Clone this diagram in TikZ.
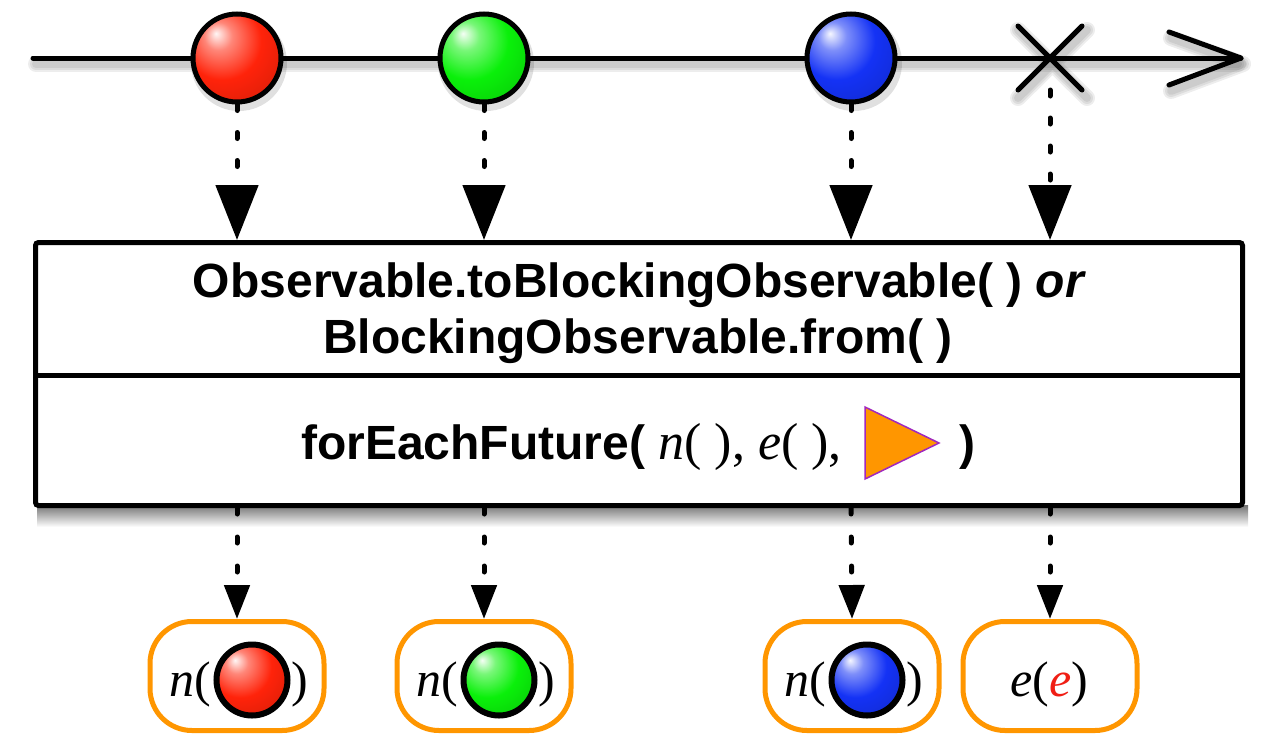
\documentclass[tikz,border=0pt]{standalone}
\usepackage{fontspec}
\setmainfont{Liberation Serif}
\setsansfont{Liberation Sans}
\usetikzlibrary{arrows.meta}
\definecolor{orng}{RGB}{255,150,0}
\definecolor{tripurple}{RGB}{160,40,190}
\definecolor{ered}{RGB}{240,30,20}
\definecolor{mred}{RGB}{255,35,10}
\definecolor{mgreen}{RGB}{10,240,10}
\definecolor{mblue}{RGB}{20,50,245}
\newcommand{\serup}[1]{{\rmfamily\mdseries\upshape\fontsize{52}{56}\selectfont #1}}
\newcommand{\serit}[1]{{\rmfamily\mdseries\itshape\fontsize{52}{56}\selectfont #1}}
\makeatletter
\pgfdeclareradialshading[tikz@ball]{marbleshade}{\pgfqpoint{-12bp}{14bp}}{%
  color(0bp)=(tikz@ball!4!white);
  color(8bp)=(tikz@ball!55!white);
  color(22bp)=(tikz@ball);
  color(36bp)=(tikz@ball!88!black);
  color(50bp)=(tikz@ball!60!black);
  color(70bp)=(tikz@ball!50!black)}
\makeatother
\begin{document}
\begin{tikzpicture}[x=1pt,y=-1pt,
  timeline/.style={line width=5pt, line cap=round, line join=round},
  tshadow/.style={line cap=round, line join=round, black, opacity=0.07},
  marble/.style={circle, draw=black, line width=5pt, minimum size=88pt, inner sep=0pt, shade, ball color=#1, shading=marbleshade},
  smallmarble/.style={circle, draw=black, line width=6pt, minimum size=71pt, inner sep=0pt, shade, ball color=#1, shading=marbleshade},
  opbox/.style={draw=black, line width=5pt, rounded corners=3pt, fill=white, minimum width=1207pt, minimum height=263pt, inner sep=0pt},
  resbox/.style={draw=orng, line width=5pt, rounded corners=42pt, fill=white, minimum width=174pt, minimum height=109pt, inner sep=0pt},
  dotarrow/.style={line width=5pt, line cap=round, dash pattern=on 6pt off 22pt, -{Triangle[length=55pt,width=42pt]}},
  smalldotarrow/.style={line width=5pt, line cap=round, dash pattern=on 6pt off 23pt, -{Triangle[length=34pt,width=25pt]}},
  boxtext/.style={font=\sffamily\bfseries\fontsize{48}{56}\selectfont, inner sep=0pt, anchor=base},
  restext/.style={font=\rmfamily\fontsize{50}{56}\selectfont, inner sep=0pt, anchor=base},
]
\useasboundingbox (0,0) rectangle (1280,750);

% ---- timeline shadow ----
\foreach \w in {16,12,8}{
  \draw[tshadow, line width=\w pt] (36,64) -- (1238,64);
  \draw[tshadow, line width=\w pt] (1171,38) -- (1243,64) -- (1171,91);
  \draw[tshadow, line width=\w pt] (1018,30) -- (1087,98) (1018,98) -- (1087,30);
}
\foreach \cx in {239,486,854}{
  \fill[black, opacity=0.12] (\cx,63) circle (48pt);
}

% ---- timeline ----
\coordinate (tstart) at (33,58);
\coordinate (tend) at (1241,58);
\draw[timeline] (tstart) -- (tend);
\draw[timeline] (1169,32) -- (tend) -- (1169,85);

% ---- error X ----
\node[minimum size=64pt, inner sep=0pt, outer sep=0pt] (err) at (1050,58) {};
\draw[timeline] (err.north west) -- (err.south east) (err.south west) -- (err.north east);

% ---- marbles ----
\node[marble=mred] (rb) at (237,58) {};
\node[marble=mgreen] (gb) at (484,58) {};
\node[marble=mblue] (bb) at (851,58) {};

% ---- operator box ----
\shade[top color=black!55, bottom color=white] (37,505) rectangle (1248,527);
\node[opbox] (box) at (639,374) {};
\draw[line width=5pt] (box.west |- 0,375) -- (box.east |- 0,375);

\node[boxtext] (t1) at (639.5,297) {Observable.toBlockingObservable( ) \textit{or}};
\node[boxtext] (t2) at (638,353) {BlockingObservable.from( )};
\node[boxtext, anchor=base west] (t3) at (301,459) {forEachFuture( \serit{n}\serup{( ), }\serit{e}\serup{( ),}};
\draw[fill=orng, draw=tripurple, line width=1.5pt] (865,407) -- (939,443) -- (865,479) -- cycle;
\node[boxtext, anchor=base west] (t4) at (959,459) {)};

% ---- arrows into box ----
\draw[dotarrow] (rb.south) -- (rb.south |- box.north);
\draw[dotarrow] (gb.south) -- (gb.south |- box.north);
\draw[dotarrow] (bb.south) -- (bb.south |- box.north);
\draw[dotarrow] (err.south) -- (err.south |- box.north);

% ---- result boxes ----
\node[resbox] (r1) at (237,676) {};
\node[resbox] (r2) at (484,676) {};
\node[resbox] (r3) at (852,676) {};
\node[resbox] (r4) at (1050,676) {};

\draw[smalldotarrow] (rb.south |- box.south) -- (r1.north);
\draw[smalldotarrow] (gb.south |- box.south) -- (r2.north);
\draw[smalldotarrow] (bb.south |- box.south) -- (r3.north);
\draw[smalldotarrow] (err.south |- box.south) -- (r4.north);

% ---- result contents ----
\node[smallmarble=mred] (s1) at (252,680) {};
\node[restext, anchor=base east, xshift=-2pt] (n1) at (s1.west |- 0,696) {\textit{n}(};
\node[restext, anchor=base west, xshift=1pt] (c1) at (s1.east |- 0,696) {)};

\node[smallmarble=mgreen] (s2) at (499,680) {};
\node[restext, anchor=base east, xshift=-2pt] (n2) at (s2.west |- 0,696) {\textit{n}(};
\node[restext, anchor=base west, xshift=1pt] (c2) at (s2.east |- 0,696) {)};

\node[smallmarble=mblue] (s3) at (867,680) {};
\node[restext, anchor=base east, xshift=-2pt] (n3) at (s3.west |- 0,696) {\textit{n}(};
\node[restext, anchor=base west, xshift=1pt] (c3) at (s3.east |- 0,696) {)};

\node[restext] (e4) at (1049,696) {\textit{e}(\textcolor{ered}{\textit{e}})};
\end{tikzpicture}
\end{document}
